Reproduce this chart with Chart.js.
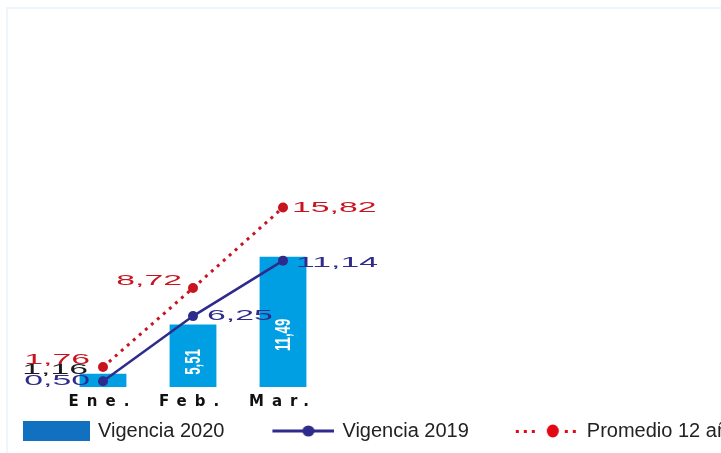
<!DOCTYPE html>
<html lang="es">
<head>
<meta charset="UTF-8">
<title>Vigencias 2020 / 2019</title>
<script src="https://cdn.jsdelivr.net/npm/chart.js"></script>
<style>
  html, body { margin: 0; padding: 0; background: #fff; overflow: hidden; }
  body { width: 721px; height: 453px; position: relative; }
  .marco { position: absolute; left: 6px; top: 7px; right: -10px; bottom: -10px;
           border-top: 2px solid #eef5fc; border-left: 2px solid #eef5fc; }
  #wrap { position: absolute; left: -28px; top: 0; width: 860px; height: 453px; }
</style>
</head>
<body>
<div class="marco"></div>
<div id="wrap"><canvas id="grafico"></canvas></div>
<script>
const meses = ['Ene.', 'Feb.', 'Mar.'];
const vigencia2020 = [1.16, 5.51, 11.49];
const vigencia2019 = [0.50, 6.25, 11.14];
const promedio12 = [1.76, 8.72, 15.82];
const nombres = ['Vigencia 2020', 'Vigencia 2019', 'Promedio 12 años'];

const celeste = '#009fe3';
const azulLeyenda = '#1270c0';
const azulOscuro = '#2e2b8c';
const rojo = '#c8141f';
const rojoLeyenda = '#e30613';

// simbolos de la leyenda (el simbolo queda pegado al borde derecho)
function simbolo(dibujar) {
  const c = document.createElement('canvas');
  c.width = 102; c.height = 24;
  dibujar(c.getContext('2d'));
  return c;
}
const simbolo2020 = simbolo(g => { g.fillStyle = azulLeyenda; g.fillRect(35, 2, 67, 20); });
const simbolo2019 = simbolo(g => {
  g.strokeStyle = azulOscuro; g.lineWidth = 3;
  g.beginPath(); g.moveTo(40, 12); g.lineTo(102, 12); g.stroke();
  g.fillStyle = azulOscuro; g.beginPath(); g.ellipse(76, 12, 6, 5.5, 0, 0, Math.PI * 2); g.fill();
});
const simboloProm = simbolo(g => {
  g.fillStyle = rojoLeyenda;
  [39, 47, 55, 88, 96].forEach(x => g.fillRect(x, 11, 3, 3));
  g.beginPath(); g.ellipse(76, 12, 6, 6.5, 0, 0, Math.PI * 2); g.fill();
});
const simbolos = [simbolo2020, simbolo2019, simboloProm];

// ubicacion de las etiquetas de las lineas: alineacion, dx, dy
const posProm = [['right', -13, -7], ['right', -11, -7], ['left', 9, 0]];
const pos2019 = [['right', -13, 0], ['left', 14, 0], ['left', 13, 2]];

const fmt = v => v.toFixed(2).replace('.', ',');

function textoAncho(ctx, txt, x, y, align, color) {
  ctx.save();
  ctx.translate(x, y);
  ctx.scale(2.25, 1);
  ctx.font = '15px "Liberation Sans", Arial, sans-serif';
  ctx.textAlign = align;
  ctx.textBaseline = 'middle';
  ctx.fillStyle = color;
  ctx.fillText(txt, 0, 0);
  ctx.restore();
}

const etiquetas = {
  id: 'etiquetas',
  afterDatasetsDraw(chart) {
    const ctx = chart.ctx;
    chart.getDatasetMeta(0).data.forEach((b, i) => {
      const h = b.base - b.y;
      if (h < 30) {
        textoAncho(ctx, fmt(vigencia2020[i]), b.x - 15, b.y - 4, 'right', '#1a1a1a');
      } else {
        ctx.save();
        ctx.translate(b.x, b.base - h * 0.4);
        ctx.rotate(-Math.PI / 2);
        ctx.scale(0.6, 1);
        ctx.font = 'bold 22px "Liberation Sans", Arial, sans-serif';
        ctx.textAlign = 'center';
        ctx.textBaseline = 'middle';
        ctx.fillStyle = '#ffffff';
        ctx.fillText(fmt(vigencia2020[i]), 0, 1);
        ctx.restore();
      }
    });
    chart.getDatasetMeta(1).data.forEach((p, i) => {
      const [lado, dx, dy] = pos2019[i];
      textoAncho(ctx, fmt(vigencia2019[i]), p.x + dx, p.y + dy, lado, azulOscuro);
    });
    chart.getDatasetMeta(2).data.forEach((p, i) => {
      const [lado, dx, dy] = posProm[i];
      textoAncho(ctx, fmt(promedio12[i]), p.x + dx, p.y + dy, lado, rojo);
    });
    // las etiquetas del eje x se dibujan despues (ticks.z = 1) con espaciado
    ctx.letterSpacing = '8px';
  },
  afterDraw(chart) {
    chart.ctx.letterSpacing = '0px';
  }
};

new Chart(document.getElementById('grafico'), {
  type: 'bar',
  data: {
    labels: meses,
    datasets: [
      {
        type: 'bar',
        label: nombres[0],
        data: vigencia2020,
        backgroundColor: celeste,
        barPercentage: 0.52,
        categoryPercentage: 1,
        order: 3
      },
      {
        type: 'line',
        label: nombres[1],
        data: vigencia2019,
        borderColor: azulOscuro,
        borderWidth: 2.5,
        pointRadius: 5,
        pointBackgroundColor: azulOscuro,
        pointBorderWidth: 0,
        order: 1
      },
      {
        type: 'line',
        label: nombres[2],
        data: promedio12,
        borderColor: rojo,
        borderWidth: 3,
        borderDash: [3, 5],
        pointRadius: 5,
        pointBackgroundColor: rojo,
        pointBorderWidth: 0,
        order: 2
      }
    ]
  },
  options: {
    responsive: true,
    maintainAspectRatio: false,
    animation: false,
    layout: { padding: { top: 24, bottom: 2, left: 8, right: 0 } },
    plugins: {
      tooltip: { enabled: false },
      legend: {
        position: 'bottom',
        align: 'start',
        labels: {
          usePointStyle: true,
          pointStyleWidth: 98,
          padding: 10,
          color: '#222',
          font: { family: '"Liberation Sans", Arial, sans-serif', size: 20 },
          generateLabels: chart => chart.data.datasets.map((ds, i) => ({
            text: ds.label,
            pointStyle: simbolos[i],
            fillStyle: 'transparent',
            strokeStyle: 'transparent',
            lineWidth: 0,
            fontColor: '#222',
            hidden: false,
            datasetIndex: i
          }))
        }
      }
    },
    scales: {
      x: {
        offset: true,
        grid: { display: false, drawTicks: false },
        border: { display: false },
        ticks: {
          padding: 6,
          color: '#111',
          z: 1,
          font: { family: '"DejaVu Sans", sans-serif', size: 15, weight: 'bold' }
        },
        afterFit: s => { s.height -= 6; }
      },
      y: {
        position: 'left',
        min: 0,
        max: 32,
        ticks: { display: false },
        grid: { display: false },
        border: { display: false },
        afterFit: s => { s.width = 78; }
      },
      y2: {
        position: 'right',
        ticks: { display: false },
        grid: { display: false },
        border: { display: false },
        afterFit: s => { s.width = 504; }
      }
    }
  },
  plugins: [etiquetas]
});
</script>
</body>
</html>
